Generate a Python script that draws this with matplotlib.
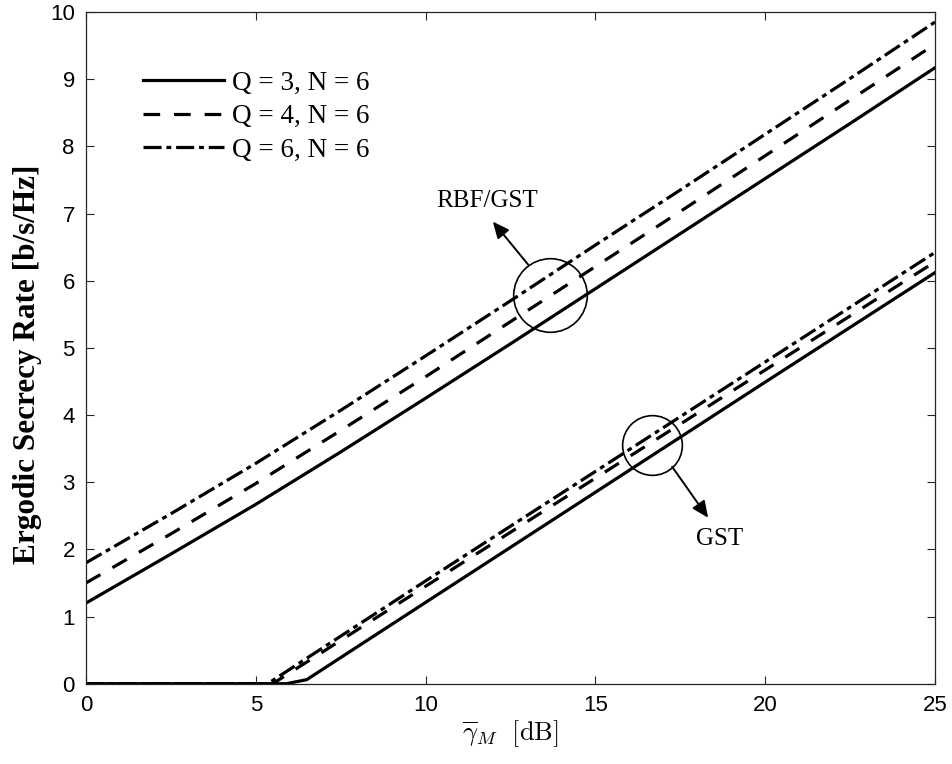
import matplotlib
matplotlib.use("Agg")
import matplotlib.pyplot as plt

plt.rcParams['mathtext.fontset'] = 'cm'
plt.rcParams['lines.scale_dashes'] = False

# ---- data ----
snr_upper = [0, 2.5, 5, 7.5, 10, 12.5, 15, 17.5, 20, 22.5, 25]
rbf_q3 = [1.20, 1.93, 2.67, 3.45, 4.25, 5.06, 5.88, 6.70, 7.52, 8.34, 9.17]
rbf_q4 = [1.50, 2.23, 2.98, 3.77, 4.57, 5.39, 6.21, 7.03, 7.86, 8.69, 9.52]
rbf_q6 = [1.80, 2.53, 3.28, 4.07, 4.88, 5.70, 6.53, 7.35, 8.18, 9.01, 9.85]

snr_gst_q3 = [0, 5.9, 6.5, 10, 15, 20, 25]
gst_q3 = [0, 0, 0.06, 1.21, 2.85, 4.49, 6.12]
snr_gst_q4 = [0, 5.5, 10, 15, 20, 25]
gst_q4 = [0, 0, 1.45, 3.06, 4.67, 6.28]
snr_gst_q6 = [0, 5.35, 10, 15, 20, 25]
gst_q6 = [0, 0, 1.53, 3.16, 4.79, 6.42]

labels = ['Q = 3, N = 6', 'Q = 4, N = 6', 'Q = 6, N = 6']
xticks = [0, 5, 10, 15, 20, 25]
yticks = list(range(0, 11))

# ---- styles ----
lw = 2.3
solid = dict(color='black', lw=lw, linestyle='-')
dashed = dict(color='black', lw=lw, linestyle=(0, (12, 10)), dash_capstyle='butt')
dashdot = dict(color='black', lw=lw, linestyle=(0, (13, 3.5, 3.5, 3.5)), dash_capstyle='butt')

fig = plt.figure(figsize=(9.53, 7.64), dpi=100)
ax = fig.add_axes([0.0902, 0.1051, 0.8909, 0.8792])

l1, = ax.plot(snr_upper, rbf_q3, **solid)
l2, = ax.plot(snr_upper, rbf_q4, **dashed)
l3, = ax.plot(snr_upper, rbf_q6, **dashdot)
ax.plot(snr_gst_q3, gst_q3, **solid)
ax.plot(snr_gst_q4, gst_q4, **dashed)
ax.plot(snr_gst_q6, gst_q6, **dashdot)

ax.set_xlim(0, 25)
ax.set_ylim(0, 10)
ax.set_xticks(xticks)
ax.set_yticks(yticks)
ax.tick_params(direction='in', top=True, right=True, length=6, width=0.8,
               labelsize=16, colors='#262626', labelcolor='black', pad=8)
for lab in ax.get_xticklabels() + ax.get_yticklabels():
    lab.set_family('Liberation Sans')
for s in ax.spines.values():
    s.set_color('#262626')
    s.set_linewidth(0.9)

ax.set_xlabel(r'$\overline{\gamma}_M\ \ \mathrm{[dB]}$', fontsize=19, labelpad=2)
ax.set_ylabel('Ergodic Secrecy Rate [b/s/Hz]', fontsize=22.5, fontweight='bold',
              family='Liberation Serif')
ax.yaxis.set_label_coords(-0.052, 0.476)

leg = ax.legend([l1, l2, l3], labels, loc='upper left', bbox_to_anchor=(0.0385, 0.949),
                frameon=False, handlelength=3.0, handletextpad=0.3, labelspacing=0.32,
                prop={'family': 'Liberation Serif', 'size': 19.5})

# annotations
ax.plot([13.66], [5.78], marker='o', markersize=53, markerfacecolor='none',
        markeredgecolor='black', markeredgewidth=1.2)
ax.plot([16.67], [3.56], marker='o', markersize=43, markerfacecolor='none',
        markeredgecolor='black', markeredgewidth=1.2)
ax.annotate('', xy=(11.98, 6.88), xytext=(13.02, 6.24),
            arrowprops=dict(arrowstyle='-|>,head_length=1.0,head_width=0.45',
                            color='black', lw=1.4, shrinkA=0, shrinkB=0))
ax.annotate('', xy=(18.32, 2.47), xytext=(17.26, 3.23),
            arrowprops=dict(arrowstyle='-|>,head_length=1.0,head_width=0.45',
                            color='black', lw=1.4, shrinkA=0, shrinkB=0))
ax.text(11.81, 7.18, 'RBF/GST', ha='center', va='center', fontsize=18,
        family='Liberation Serif')
ax.text(18.67, 2.16, 'GST', ha='center', va='center', fontsize=18,
        family='Liberation Serif')

fig.savefig('out.png', dpi=100, facecolor='white')
